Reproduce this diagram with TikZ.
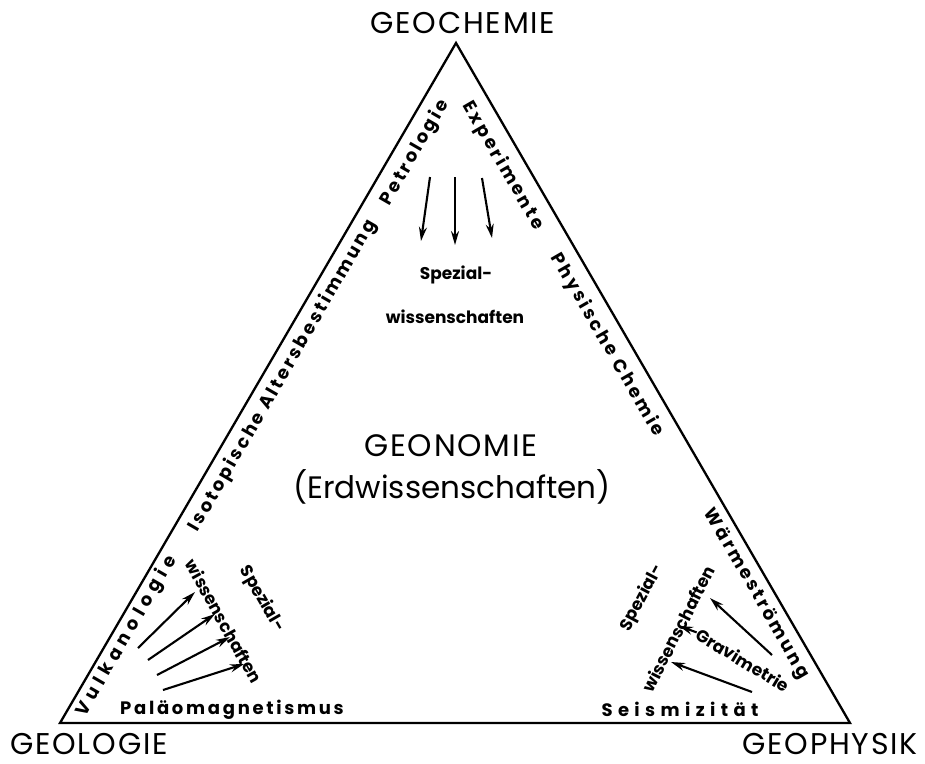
\documentclass[tikz,border=0pt]{standalone}
\usepackage{fontspec}
\setmainfont{Poppins}
\newfontfamily\largo[LetterSpace=15]{Poppins}
\newfontfamily\larghissimo[LetterSpace=30]{Poppins}
\newfontfamily\titolo[LetterSpace=6]{Poppins}
\usetikzlibrary{arrows.meta}

\begin{document}
\begin{tikzpicture}[x=1pt,y=-1pt,
    vertice/.style={font=\titolo\fontsize{30}{32}\selectfont, inner sep=0pt, text depth=0pt},
    centro/.style={font=\fontsize{31}{36}\selectfont, inner sep=0pt},
    lato/.style={font=\largo\bfseries\fontsize{18}{20}\selectfont, inner sep=0pt},
    latolargo/.style={lato, font=\larghissimo\bfseries\fontsize{18}{20}\selectfont},
    spec/.style={font=\bfseries\fontsize{17}{19}\selectfont, inner sep=0pt},
    freccia/.style={line width=2.1pt, -{Stealth[length=14pt,width=8pt]}}]
    % --- macro riutilizzabili -----------------------------------------
    \def\freccia#1#2#3{\coordinate (#1a) at (#2); \coordinate (#1b) at (#3);
        \draw[freccia] (#1a) -- (#1b);}
    \useasboundingbox (0,0) rectangle (925,763);
    % --- triangolo ----------------------------------------------------
    \coordinate (geol) at (60,723);
    \coordinate (chem) at (456,43);
    \coordinate (phys) at (850,723);
    \draw[line width=2.3pt, line join=miter] (geol) -- (chem) -- (phys) -- cycle;
    % --- vertici e centro ---------------------------------------------
    \node[vertice] (geochemie) at (463,23) {GEOCHEMIE};
    \node[vertice] (geologie) at (89,744) {GEOLOGIE};
    \node[vertice] (geophysik) at (830,744) {GEOPHYSIK};
    \node[centro, font=\titolo\fontsize{31}{36}\selectfont] (geonomie) at (451,446) {GEONOMIE};
    \node[centro] (erdwiss) at (452,487) {(Erdwissenschaften)};
    % --- lati ---------------------------------------------------------
    \node[lato, rotate=60] (isotop) at (283,376) {Isotopische Altersbestimmung};
    \node[lato, rotate=60] (petro) at (415,153) {Petrologie};
    \node[latolargo, rotate=60] (vulkan) at (127,636) {Vulkanologie};
    \node[lato, rotate=-60] (exper) at (503,166) {Experimente};
    \node[lato, rotate=-60] (physch) at (607,345) {Physische Chemie};
    \node[lato, rotate=-60] (waerme) at (756,594) {Wärmeströmung};
    \node[lato] (palaeo) at (232,710) {Paläomagnetismus};
    \node[latolargo] (seism) at (680,709) {Seismizität};
    % --- spezialwissenschaften ----------------------------------------
    \node[spec] (spezO) at (456,275) {Spezial-};
    \node[spec] (wissO) at (455,317) {wissenschaften};
    \node[spec, rotate=-61] (wissL) at (224,621) {wissenschaften};
    \node[spec, rotate=-60] (spezL) at (262,599) {Spezial-};
    \node[spec, rotate=63] (wissR) at (678,629) {wissenschaften};
    \node[spec, rotate=62] (spezR) at (642,598) {Spezial-};
    \node[spec, rotate=-31] (grav) at (743,660) {Gravimetrie};
    % --- frecce -------------------------------------------------------
    \freccia{fo1}{430,177}{421,241}
    \freccia{fo2}{455,177}{455,245}
    \freccia{fo3}{482,178}{492,238}
    \freccia{fl1}{138,648}{195,592}
    \freccia{fl2}{148,660}{215,614}
    \freccia{fl3}{157,675}{230,637}
    \freccia{fl4}{163,690}{244,664}
    \freccia{fr1}{772,655}{710,598}
    \freccia{fr2}{752,692}{671,662}
    \coordinate (fr3b) at (679,626);
    \draw[freccia, shorten <=1pt] (grav.west) -- (fr3b);
\end{tikzpicture}
\end{document}
